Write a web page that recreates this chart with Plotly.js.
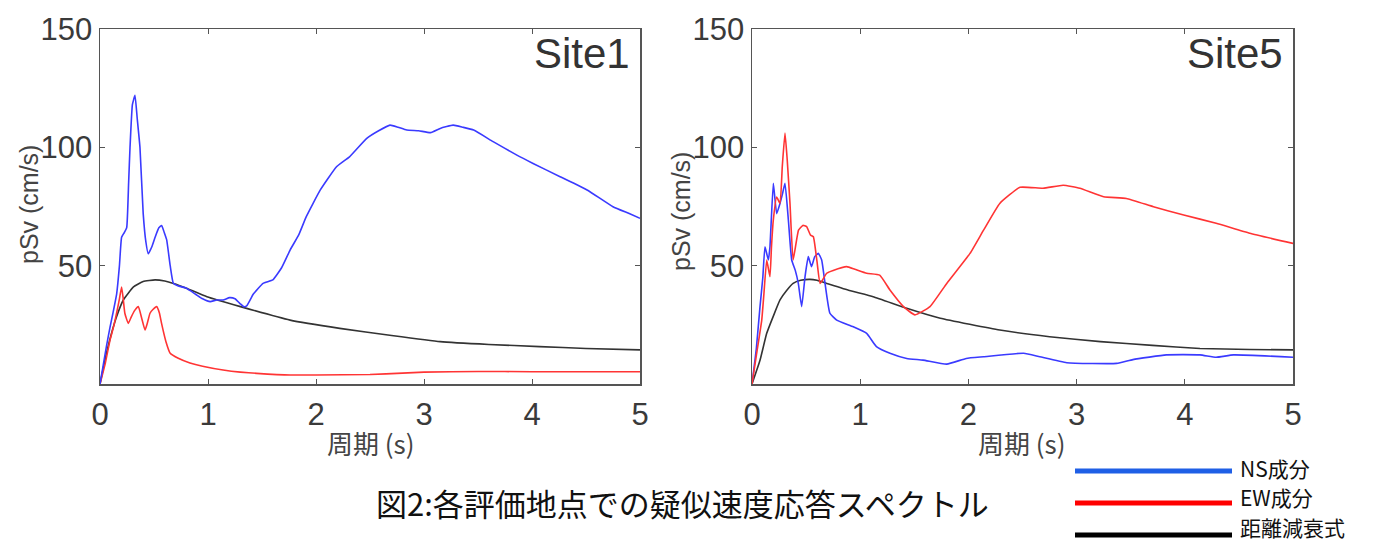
<!DOCTYPE html>
<html>
<head>
<meta charset="utf-8">
<script src="https://cdn.plot.ly/plotly-3.0.1.min.js"></script>
<style>html,body{margin:0;padding:0;background:#fff;}#chart{width:1385px;height:544px;}</style>
</head>
<body>
<div id="chart"></div>
<script>
// ---- Data (period in s, pSv in cm/s) ----
const site1NS_x = [0,0.03,0.06,0.093,0.12,0.154,0.18,0.2,0.225,0.247,0.265,0.278,0.3,0.324,0.345,0.37,0.40,0.425,0.447,0.48,0.51,0.545,0.571,0.595,0.617,0.65,0.679,0.72,0.80,0.85,0.895,0.95,1.02,1.08,1.14,1.2,1.25,1.296,1.33,1.358,1.42,1.51,1.6,1.68,1.76,1.84,1.91,2.04,2.19,2.31,2.47,2.58,2.685,2.76,2.84,2.95,3.06,3.15,3.27,3.36,3.46,3.64,3.86,4.01,4.26,4.51,4.75,4.9,5.0];
const site1NS_y = [0,8,16,24,30,38,50,62,64,66,85,100,118,122,112,100,72,60,55,58,62,66,67,64,61,50,42.6,41.5,40.5,39,37.6,36,34.8,35.5,35.5,36.5,36,34,32.7,33,38,42.5,44,49,56.6,63,70.7,82,91.8,96,103.8,107,109.4,108.5,107.3,107,106.2,108,109.4,108.5,107.3,102.4,96.7,93.2,87.6,82,74.9,72,70];

const site1EW_x = [0,0.05,0.093,0.13,0.154,0.18,0.2,0.215,0.23,0.262,0.29,0.32,0.355,0.385,0.417,0.44,0.463,0.49,0.525,0.55,0.57,0.61,0.65,0.72,0.833,0.95,1.14,1.3,1.45,1.76,2.0,2.5,2.8,3.0,3.5,4.0,4.5,5.0];
const site1EW_y = [0,9,18.6,25,30,36,41,36,29.9,25.6,28.4,31,32.7,28,22.8,26,29.9,31.5,32.7,30,25.6,18,13,11,8.9,7.5,5.9,5,4.5,3.8,3.8,4,4.6,5.0,5.3,5.2,5.2,5.2];

const site1Att_x = [0,0.05,0.09,0.15,0.216,0.31,0.4,0.51,0.6,0.68,0.8,0.99,1.3,1.76,2.22,2.7,3.15,3.6,4.07,4.5,5.0];
const site1Att_y = [0,11,18.6,28,35.5,41,43.3,44,43.5,42.5,40.5,36.9,32.7,27,23.5,20.5,17.9,16.7,15.8,15,14.4];

const site5NS_x = [0,0.04,0.074,0.1,0.12,0.151,0.166,0.197,0.228,0.259,0.28,0.305,0.336,0.367,0.40,0.428,0.459,0.49,0.52,0.55,0.58,0.613,0.644,0.675,0.72,0.783,0.936,1.06,1.15,1.275,1.43,1.58,1.8,1.98,2.14,2.51,2.66,2.91,3.37,3.52,3.83,4.14,4.29,4.45,5.0];
const site5NS_y = [0,15,32.7,45,58,52.4,58,84.8,72,76.3,80,84.8,69.3,52.4,48,42.5,32.7,45.3,53.8,49.6,53.8,55.2,52.4,42.5,29.9,27,24.2,21.4,15.8,13,10.8,10.1,8.4,10.8,11.5,13,11.5,9,8.7,10.3,12.3,12.3,11.3,12.3,11.3];

const site5EW_x = [0,0.04,0.09,0.11,0.136,0.166,0.18,0.197,0.228,0.259,0.28,0.305,0.325,0.351,0.38,0.43,0.47,0.505,0.54,0.567,0.6,0.63,0.69,0.75,0.875,0.95,1.06,1.18,1.275,1.4,1.506,1.645,1.8,2.015,2.14,2.29,2.477,2.69,2.876,3.03,3.25,3.46,3.71,3.99,4.29,4.6,5.0];
const site5EW_y = [0,12,27,38,52.4,45.3,58,69.3,79,76.3,92,106,95,76.3,52.4,65,67,66.5,63,62.2,52,42.5,46.8,48,49.6,48.5,46.8,46,39.7,32.7,29.2,32.7,42.5,55.2,65,76.3,83.1,82.7,84,82.7,79.1,78.4,74.9,71.4,67.9,63.7,59.4];

const site5Att_x = [0,0.074,0.136,0.2,0.259,0.32,0.38,0.45,0.536,0.6,0.69,0.9,1.12,1.43,1.74,2.29,2.75,3.22,3.7,4.14,4.6,5.0];
const site5Att_y = [0,10,21.4,29,35.5,39.5,42.5,43.8,44.2,43.8,42.5,39.5,36.9,32,27.8,22.8,20,17.9,16.3,15,14.6,14.4];

const xTicks = [0,1,2,3,4,5];
const yTicks = [50,100,150];
const siteNames = ['Site1','Site5'];
const legendNames = ['NS成分','EW成分','距離減衰式'];
const caption = '図2:各評価地点での疑似速度応答スペクトル';
const xTitle = '周期 (s)';
const yTitle = 'pSv (cm/s)';

// ---- Styling ----
const W = 1385, H = 544;
const px = v => v / W;
const py = v => 1 - v / H;
const cNS = '#3a3aff', cEW = '#ff3434', cAtt = '#333333';
const tickFont = {family: 'Liberation Sans Narrow, Liberation Sans, Arial, sans-serif', size: 31, color: '#3a3a3a'};
const cjk = 'Noto Sans CJK JP, sans-serif';

function ln(x, y, color, xa, ya) {
  return {x: x, y: y, type: 'scatter', mode: 'lines', line: {color: color, width: 1.6, shape: 'spline', smoothing: 0.4}, xaxis: xa, yaxis: ya, showlegend: false, hoverinfo: 'skip'};
}

const traces = [
  ln(site1Att_x, site1Att_y, cAtt, 'x', 'y'),
  ln(site1EW_x, site1EW_y, cEW, 'x', 'y'),
  ln(site1NS_x, site1NS_y, cNS, 'x', 'y'),
  ln(site5Att_x, site5Att_y, cAtt, 'x2', 'y2'),
  ln(site5NS_x, site5NS_y, cNS, 'x2', 'y2'),
  ln(site5EW_x, site5EW_y, cEW, 'x2', 'y2')
];

function xax(dom, anchor) {
  return {domain: dom, anchor: anchor, range: [0,5], tickvals: xTicks, ticks: 'inside', ticklen: 5, tickcolor: '#555',
    showline: true, linecolor: '#555', linewidth: 1.5, mirror: 'ticks', showgrid: false, zeroline: false,
    tickfont: tickFont, ticklabelstandoff: 2, fixedrange: true};
}
function yax(anchor) {
  return {domain: [py(384), py(29)], anchor: anchor, range: [0,150], tickvals: yTicks, ticks: 'inside', ticklen: 5, tickcolor: '#555',
    showline: true, linecolor: '#555', linewidth: 1.5, mirror: 'ticks', showgrid: false, zeroline: false,
    tickfont: tickFont, ticklabelstandoff: 0, fixedrange: true};
}

const annotations = [
  {text: siteNames[0], xref: 'paper', yref: 'paper', x: px(632), y: py(54), xanchor: 'right', yanchor: 'middle', showarrow: false, font: {family: 'Liberation Sans Narrow, Liberation Sans, sans-serif', size: 42, color: '#333'}},
  {text: siteNames[1], xref: 'paper', yref: 'paper', x: px(1285), y: py(54), xanchor: 'right', yanchor: 'middle', showarrow: false, font: {family: 'Liberation Sans Narrow, Liberation Sans, sans-serif', size: 42, color: '#333'}},
  {text: yTitle, xref: 'paper', yref: 'paper', x: px(29), y: py(205), xanchor: 'center', yanchor: 'middle', textangle: -90, showarrow: false, font: {family: 'Liberation Sans, sans-serif', size: 25, color: '#444'}},
  {text: yTitle, xref: 'paper', yref: 'paper', x: px(681), y: py(212), xanchor: 'center', yanchor: 'middle', textangle: -90, showarrow: false, font: {family: 'Liberation Sans, sans-serif', size: 25, color: '#444'}},
  {text: xTitle, xref: 'paper', yref: 'paper', x: px(371), y: py(442), xanchor: 'center', yanchor: 'middle', showarrow: false, font: {family: cjk, size: 26, color: '#444'}},
  {text: xTitle, xref: 'paper', yref: 'paper', x: px(1022), y: py(442), xanchor: 'center', yanchor: 'middle', showarrow: false, font: {family: cjk, size: 26, color: '#444'}},
  {text: caption, xref: 'paper', yref: 'paper', x: px(682), y: py(502), xanchor: 'center', yanchor: 'middle', showarrow: false, font: {family: cjk, size: 31, color: '#111'}},
  {text: legendNames[0], xref: 'paper', yref: 'paper', x: px(1238), y: py(468), xanchor: 'left', yanchor: 'middle', showarrow: false, font: {family: cjk, size: 21, color: '#111'}},
  {text: legendNames[1], xref: 'paper', yref: 'paper', x: px(1238), y: py(497), xanchor: 'left', yanchor: 'middle', showarrow: false, font: {family: cjk, size: 21, color: '#111'}},
  {text: legendNames[2], xref: 'paper', yref: 'paper', x: px(1238), y: py(527), xanchor: 'left', yanchor: 'middle', showarrow: false, font: {family: cjk, size: 21, color: '#111'}}
];

const shapes = [
  {type: 'line', xref: 'paper', yref: 'paper', x0: px(1075), x1: px(1232), y0: py(471), y1: py(471), line: {color: '#1f5fe6', width: 5}},
  {type: 'line', xref: 'paper', yref: 'paper', x0: px(1075), x1: px(1232), y0: py(503), y1: py(503), line: {color: '#ff0000', width: 5}},
  {type: 'line', xref: 'paper', yref: 'paper', x0: px(1075), x1: px(1232), y0: py(535), y1: py(535), line: {color: '#000000', width: 5}}
];

const layout = {
  width: W, height: H,
  margin: {l: 0, r: 0, t: 0, b: 0},
  paper_bgcolor: '#fff', plot_bgcolor: '#fff',
  showlegend: false,
  xaxis: xax([px(100), px(640)], 'y'),
  yaxis: yax('x'),
  xaxis2: xax([px(752), px(1293)], 'y2'),
  yaxis2: yax('x2'),
  annotations: annotations,
  shapes: shapes
};

Plotly.newPlot('chart', traces, layout, {displayModeBar: false, staticPlot: true});
</script>
</body>
</html>
